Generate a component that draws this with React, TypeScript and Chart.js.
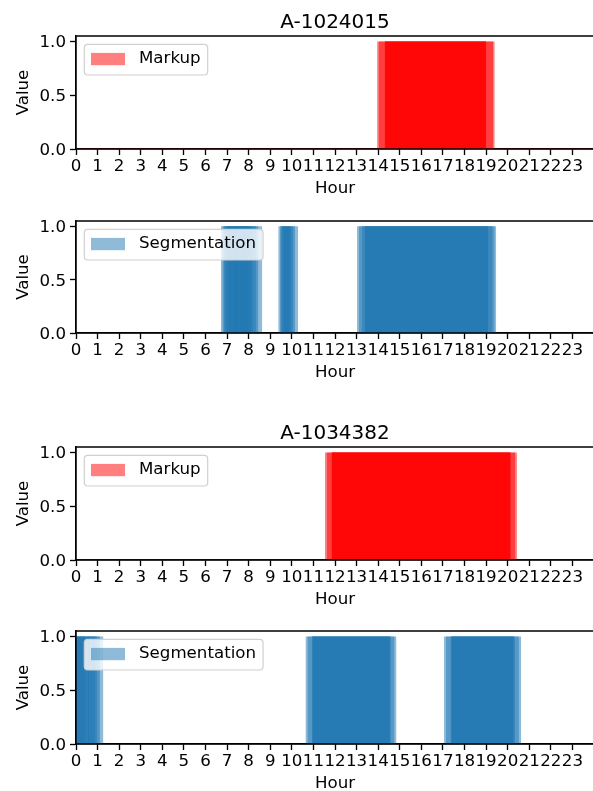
import { useEffect, useRef } from "react";
import { Chart, registerables } from "chart.js";

Chart.register(...registerables);

// ---------------- data ----------------
const DEVICES = ["A-1024015", "A-1034382"];
const HOUR_TICKS = [0, 1, 2, 3, 4, 5, 6, 7, 8, 9, 10, 11, 12, 13, 14, 15, 16, 17, 18, 19, 20, 21, 22, 23];
const VALUE_TICKS = [0, 0.5, 1.0];
const HOUR_MIN = 0;
const HOUR_MAX = 24;

// each record: [start hour, end hour] with value 1
const MARKUP_1024015: [number, number][] = [
  [13.95, 19.4], [14.02, 19.33], [14.3, 19.01], [14.32, 19.01], [14.3, 18.99],
];
const SEGMENTATION_1024015: [number, number][] = [
  [6.71, 7.2], [6.78, 8.1], [6.9, 7.55], [7.0, 8.45], [7.3, 8.63], [6.85, 7.95], [7.6, 8.35], [7.1, 8.2],
  [9.37, 10.29], [9.45, 10.15], [9.55, 10.05], [9.62, 9.98], [9.5, 9.9],
  [13.02, 19.47], [13.1, 19.4], [13.25, 19.3], [13.38, 19.09], [13.38, 19.09],
];
const MARKUP_1034382: [number, number][] = [
  [11.53, 20.43], [11.62, 20.35], [11.84, 20.14], [11.84, 20.14], [11.86, 20.12],
];
const SEGMENTATION_1034382: [number, number][] = [
  [0, 1.27], [0, 1.12], [0.02, 0.9], [0, 0.62], [0, 0.42], [0.55, 1.0],
  [10.63, 14.85], [10.72, 14.76], [10.94, 14.54], [10.94, 14.54], [10.96, 14.6],
  [17.04, 20.63], [17.14, 20.52], [17.36, 20.28], [17.36, 20.28], [17.4, 20.35],
];

// ---------------- layout / style ----------------
const FONT = "'DejaVu Sans', 'Liberation Sans', sans-serif";
const FS = 16.67;
const PAD_TOP = 36;
const X_AXIS_H = 50;
const Y_AXIS_W = 76;
const CANVAS_W = 600;

type Panel = {
  title: string | null;
  label: string;
  rgb: [number, number, number];
  records: [number, number][];
  baseline: boolean;
  areaTop: number;
  areaBottom: number;
};

const PANELS: Panel[] = [
  { title: DEVICES[0], label: "Markup", rgb: [255, 0, 0], records: MARKUP_1024015, baseline: true, areaTop: 36, areaBottom: 149 },
  { title: null, label: "Segmentation", rgb: [31, 119, 180], records: SEGMENTATION_1024015, baseline: false, areaTop: 221, areaBottom: 333 },
  { title: DEVICES[1], label: "Markup", rgb: [255, 0, 0], records: MARKUP_1034382, baseline: true, areaTop: 447, areaBottom: 560 },
  { title: null, label: "Segmentation", rgb: [31, 119, 180], records: SEGMENTATION_1034382, baseline: false, areaTop: 631, areaBottom: 744 },
];

const rgba = (c: [number, number, number], a: number) => `rgba(${c[0]},${c[1]},${c[2]},${a})`;

function PanelChart({ panel }: { panel: Panel }) {
  const ref = useRef<HTMLCanvasElement | null>(null);
  const areaH = panel.areaBottom - panel.areaTop;
  const height = PAD_TOP + areaH + X_AXIS_H;

  useEffect(() => {
    if (!ref.current) return;
    const fill = rgba(panel.rgb, 0.5);
    const datasets: any[] = panel.records.map(([s, e]) => ({
      data: [
        { x: s, y: 0 },
        { x: s, y: 1 },
        { x: e, y: 1 },
        { x: e, y: 0 },
      ],
      borderWidth: 0,
      borderColor: "transparent",
      backgroundColor: fill,
      pointRadius: 0,
      fill: "origin",
      tension: 0,
    }));
    if (panel.baseline) {
      datasets.push({
        data: [
          { x: HOUR_MIN, y: 0 },
          { x: HOUR_MAX, y: 0 },
        ],
        borderWidth: 2.2,
        borderColor: fill,
        pointRadius: 0,
        fill: false,
      });
    }

    const overlay = {
      id: "mplOverlay",
      afterDraw(chart: any) {
        const { ctx, chartArea } = chart;
        const { left, right, top, bottom } = chartArea;
        ctx.save();
        // spines on top of the data (as matplotlib does)
        ctx.strokeStyle = "#000";
        ctx.lineWidth = 1.33;
        ctx.beginPath();
        ctx.moveTo(left - 0.6, top);
        ctx.lineTo(right + 0.6, top);
        ctx.moveTo(right, top);
        ctx.lineTo(right, bottom);
        ctx.moveTo(left - 0.6, bottom);
        ctx.lineTo(right + 0.6, bottom);
        ctx.moveTo(left, top);
        ctx.lineTo(left, bottom);
        ctx.stroke();

        // legend
        ctx.font = `${FS}px ${FONT}`;
        const tw = ctx.measureText(panel.label).width;
        const bx = left + 8.3;
        const by = top + 8.3;
        const bw = 6.7 + 34 + 14 + tw + 7;
        const bh = 30.7;
        const r = 3.5;
        ctx.beginPath();
        ctx.moveTo(bx + r, by);
        ctx.lineTo(bx + bw - r, by);
        ctx.arcTo(bx + bw, by, bx + bw, by + r, r);
        ctx.lineTo(bx + bw, by + bh - r);
        ctx.arcTo(bx + bw, by + bh, bx + bw - r, by + bh, r);
        ctx.lineTo(bx + r, by + bh);
        ctx.arcTo(bx, by + bh, bx, by + bh - r, r);
        ctx.lineTo(bx, by + r);
        ctx.arcTo(bx, by, bx + r, by, r);
        ctx.closePath();
        ctx.fillStyle = "rgba(255,255,255,0.8)";
        ctx.fill();
        ctx.strokeStyle = "#d0d0d0";
        ctx.lineWidth = 1.2;
        ctx.stroke();
        const cy = by + bh / 2 - 0.6;
        ctx.fillStyle = fill;
        ctx.fillRect(bx + 6.7, cy - 6.15, 34, 12.3);
        ctx.fillStyle = "#000";
        ctx.textAlign = "left";
        ctx.textBaseline = "middle";
        ctx.fillText(panel.label, bx + 6.7 + 34 + 14, cy);

        // title
        if (panel.title) {
          ctx.font = `20px ${FONT}`;
          ctx.textAlign = "center";
          ctx.textBaseline = "alphabetic";
          ctx.fillText(panel.title, (left + right) / 2, top - 8.5);
        }
        ctx.restore();
      },
    };

    const chart = new Chart(ref.current, {
      type: "line",
      data: { datasets },
      options: {
        animation: false,
        responsive: false,
        maintainAspectRatio: false,
        events: [],
        layout: { padding: { top: PAD_TOP, right: CANVAS_W - 594, left: 0, bottom: 0 } },
        plugins: {
          legend: { display: false },
          tooltip: { enabled: false },
          title: { display: false },
        },
        scales: {
          x: {
            type: "linear",
            min: HOUR_MIN,
            max: HOUR_MAX,
            afterBuildTicks: (s: any) => {
              s.ticks = HOUR_TICKS.map((v) => ({ value: v }));
            },
            afterFit: (s: any) => {
              s.height = X_AXIS_H;
            },
            ticks: {
              autoSkip: false,
              maxRotation: 0,
              minRotation: 0,
              padding: 1.5,
              color: "#000",
              font: { family: FONT, size: FS },
              callback: (v: any) => String(v),
            },
            grid: {
              drawOnChartArea: false,
              drawTicks: true,
              tickLength: 6,
              tickWidth: 1.33,
              tickColor: "#000",
              color: "#000",
            },
            border: { display: true, color: "#000", width: 1.33 },
            title: {
              display: true,
              text: "Hour",
              color: "#000",
              font: { family: FONT, size: FS },
              padding: { top: 0, bottom: 0 },
            },
          },
          y: {
            type: "linear",
            min: 0,
            max: 1.05,
            afterBuildTicks: (s: any) => {
              s.ticks = VALUE_TICKS.map((v) => ({ value: v }));
            },
            afterFit: (s: any) => {
              s.width = Y_AXIS_W;
            },
            ticks: {
              padding: 4,
              labelOffset: 1.5,
              color: "#000",
              font: { family: FONT, size: FS },
              callback: (v: any) => Number(v).toFixed(1),
            },
            grid: {
              drawOnChartArea: false,
              drawTicks: true,
              tickLength: 6,
              tickWidth: 1.33,
              tickColor: "#000",
              color: "#000",
            },
            border: { display: true, color: "#000", width: 1.33 },
            title: {
              display: true,
              text: "Value",
              color: "#000",
              font: { family: FONT, size: FS },
              padding: { top: 14, bottom: 0 },
            },
          },
        },
      },
      plugins: [overlay],
    });
    return () => chart.destroy();
  }, [panel]);

  return (
    <canvas
      ref={ref}
      width={CANVAS_W}
      height={height}
      style={{
        position: "absolute",
        left: 0,
        top: panel.areaTop - PAD_TOP,
        width: CANVAS_W,
        height,
      }}
    />
  );
}

export default function App() {
  return (
    <div
      style={{
        position: "absolute",
        left: 0,
        top: 0,
        width: 593,
        height: 791,
        overflow: "hidden",
        background: "#fff",
      }}
    >
      {PANELS.map((p, i) => (
        <PanelChart key={i} panel={p} />
      ))}
    </div>
  );
}
